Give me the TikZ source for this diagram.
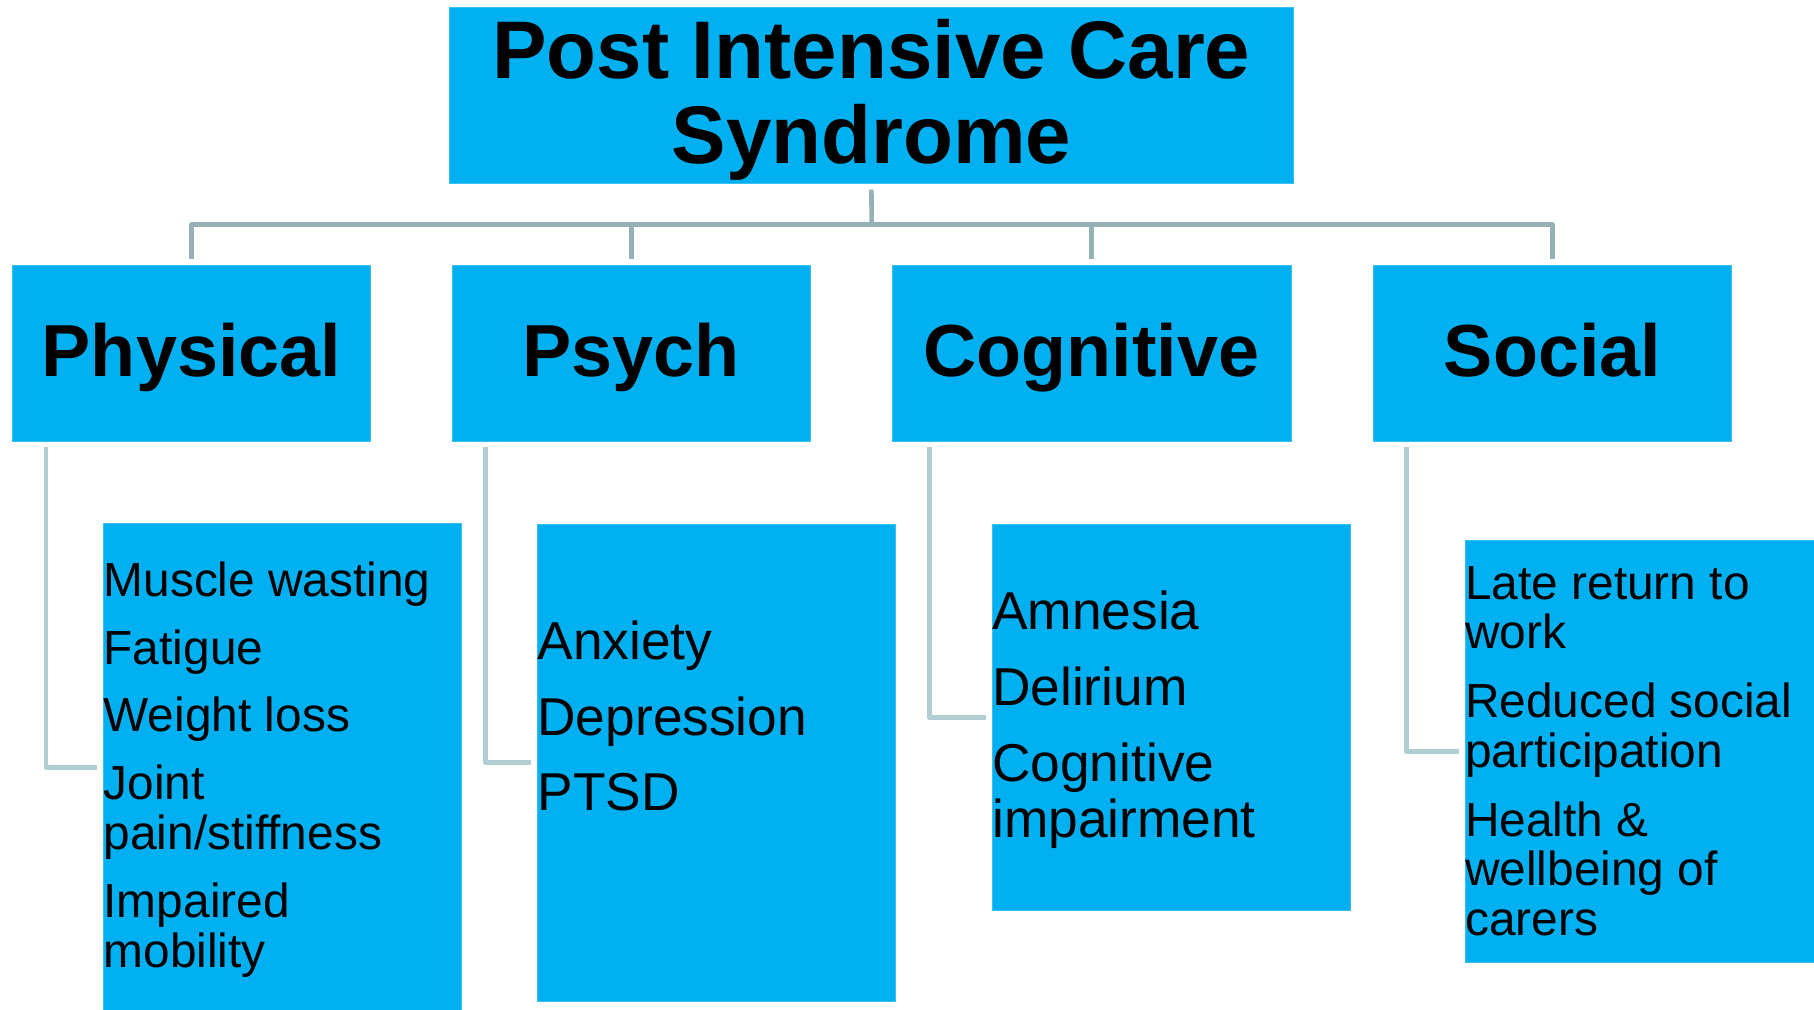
\documentclass[tikz,border=0pt]{standalone}
\usepackage{fontspec}
\setmainfont{Liberation Sans}
\usepackage{tikz}
\usetikzlibrary{
positioning,
calc
}
\definecolor{PICSblue}{HTML}{00B0F0}
\definecolor{PICSedge}{HTML}{38C0F2}
\definecolor{PICStrunk}{HTML}{96B1B5}
\definecolor{PICSbranch}{HTML}{B0CDD1}

\begin{document}
\begin{tikzpicture}[x=1bp, y=-1bp,
    box/.style={fill=PICSblue, draw=PICSedge, line width=0.8bp, inner sep=0pt},
    headbox/.style={box, minimum height=175.3bp, font=\fontsize{74}{80}\selectfont\bfseries, text height=53bp, text depth=6bp},
    listbox/.style={box, minimum width=358bp},
    listtext/.style={anchor=north west, inner sep=0pt, align=left},
    trunk/.style={PICStrunk, line width=4.6bp, line join=round},
    branch/.style={PICSbranch, line width=4.8bp, line join=round}]
        \useasboundingbox (0,0) rectangle (1814,1009);
        \clip (0,0) rectangle (1814,1009);

        % syndrome title
        \node[box, minimum width=844.2bp, minimum height=176bp, align=center, font=\fontsize{82}{85.6}\selectfont\bfseries, text depth=8bp] (pics) at (871.4,95.3) {Post Intensive Care\\Syndrome};

        % the four domains
        \foreach \name/\cx/\boxw/\txt in {
            phys/191.4/357.3/Physical,
            psych/631.2/357.6/Psych,
            cogn/1091.5/399/Cognitive,
            soc/1552.5/358.3/Social
        }{
            \node[headbox, minimum width=\boxw bp] (\name) at (\cx,353.4) {\txt};
        }

        % symptom lists
        \node[listbox, minimum height=487.5bp] (phys-list) at (282.3,767.4) {};
        \node[listbox, minimum height=477bp] (psych-list) at (716.3,762.5) {};
        \node[listbox, minimum height=386.4bp] (cogn-list) at (1170.9,717.5) {};
        \node[listbox, minimum height=421.3bp] (soc-list) at (1644,751.4) {};

        \node[listtext, font=\fontsize{48}{50}\selectfont] (phys-items) at (103.5,561.4)
            {Muscle wasting\\[18bp]Fatigue\\[18bp]Weight loss\\[18bp]Joint\\pain/stiffness\\[18bp]Impaired\\mobility};
        \node[listtext, font=\fontsize{53.5}{56}\selectfont] (psych-items) at (537.3,620.5)
            {Anxiety\\[20bp]Depression\\[20bp]PTSD};
        \node[listtext, font=\fontsize{53.5}{56}\selectfont] (cogn-items) at (992,590.8)
            {Amnesia\\[20bp]Delirium\\[20bp]Cognitive\\impairment};
        \node[listtext, font=\fontsize{48}{49.5}\selectfont] (soc-items) at (1465,566)
            {Late return to\\work\\[20bp]Reduced social\\participation\\[20bp]Health \&\\wellbeing of\\carers};

        % connectors
        \coordinate (bus) at (871.7,224.5);
        \draw[trunk] ([yshift=-6bp]pics.south) -- (bus);
        \foreach \name in {phys,psych,cogn,soc}
            \draw[trunk] (bus) -| ([yshift=6bp]\name.north);

        \foreach \name/\dx in {phys/33.6, psych/33.6, cogn/37.8, soc/33.6}
            \draw[branch] ($(\name.south west)+(\dx,6)$) |- ([xshift=-6bp]\name-list.west);
    \end{tikzpicture}
\end{document}
